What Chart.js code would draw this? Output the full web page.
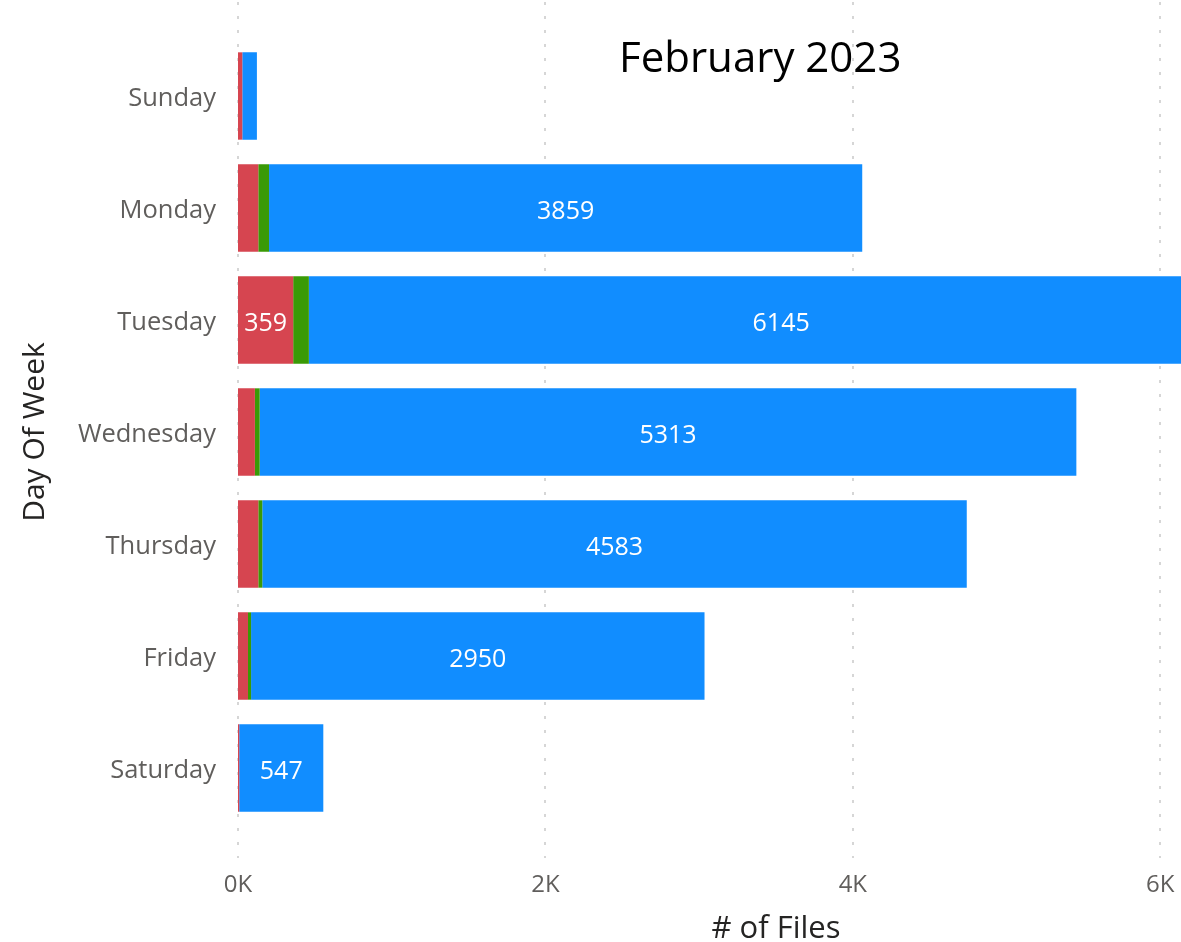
<!DOCTYPE html>
<html>
<head>
<meta charset="utf-8">
<script src="https://cdn.jsdelivr.net/npm/chart.js@4.4.1/dist/chart.umd.min.js"></script>
<style>
  html, body { margin: 0; padding: 0; background: #fff; overflow: hidden; }
  #wrap { width: 1330px; height: 942px; }
</style>
</head>
<body>
<div id="wrap"><canvas id="c" width="1330" height="942"></canvas></div>
<script>
// ── data ───────────────────────────────────────────────────────
const days = ['Sunday', 'Monday', 'Tuesday', 'Wednesday', 'Thursday', 'Friday', 'Saturday'];
const redVals   = [28, 132, 359, 110, 132, 65, 8];
const greenVals = [0, 70, 102, 31, 26, 20, 0];
const blueVals  = [95, 3859, 6145, 5313, 4583, 2950, 547];
const xTicks = [0, 2000, 4000, 6000];
const chartTitle = 'February 2023';

const FONT = "'Open Sans', 'Noto Sans', sans-serif";
const GREY = '#605e5c';
const DARK = '#252423';

// dotted grid, runs past the plot area like the original
const dottedGrid = {
  id: 'dottedGrid',
  beforeDatasetsDraw(chart) {
    const { ctx, scales: { x } } = chart;
    ctx.save();
    ctx.strokeStyle = '#d6d6d6';
    ctx.lineWidth = 2;
    ctx.setLineDash([3, 11]);
    xTicks.forEach(v => {
      const px = Math.round(x.getPixelForValue(v));
      ctx.beginPath();
      ctx.moveTo(px, 2);
      ctx.lineTo(px, 858);
      ctx.stroke();
    });
    ctx.restore();
  }
};

// white value labels, only where they fit inside the segment
const barLabels = {
  id: 'barLabels',
  afterDatasetsDraw(chart) {
    const { ctx } = chart;
    ctx.save();
    ctx.font = `25px ${FONT}`;
    ctx.fillStyle = '#fff';
    ctx.textAlign = 'center';
    ctx.textBaseline = 'middle';
    chart.data.datasets.forEach((ds, i) => {
      chart.getDatasetMeta(i).data.forEach((bar, j) => {
        const v = ds.data[j];
        if (!v) return;
        const txt = String(v);
        const w = Math.abs(bar.x - bar.base);
        if (w < ctx.measureText(txt).width + 10) return;
        ctx.fillText(txt, (bar.x + bar.base) / 2, bar.y + 4);
      });
    });
    ctx.restore();
  }
};

const titleText = {
  id: 'titleText',
  afterDraw(chart) {
    const { ctx } = chart;
    ctx.save();
    ctx.font = `42px ${FONT}`;
    ctx.fillStyle = '#000';
    ctx.textAlign = 'left';
    ctx.textBaseline = 'middle';
    ctx.fillText(chartTitle, 619, 60);
    ctx.restore();
  }
};

new Chart(document.getElementById('c'), {
  type: 'bar',
  data: {
    labels: days,
    datasets: [
      { label: 'Red', data: redVals, backgroundColor: '#d64550' },
      { label: 'Green', data: greenVals, backgroundColor: '#3a9a06' },
      { label: 'Blue', data: blueVals, backgroundColor: '#118dff' }
    ]
  },
  options: {
    indexAxis: 'y',
    responsive: false,
    animation: false,
    layout: { padding: { top: 40, right: 16, left: 0, bottom: 0 } },
    datasets: { bar: { categoryPercentage: 1, barPercentage: 0.78, borderWidth: 0 } },
    plugins: { legend: { display: false }, tooltip: { enabled: false } },
    scales: {
      x: {
        stacked: true,
        min: 0,
        max: 7000,
        border: { display: false },
        grid: { display: false, drawTicks: false },
        afterFit: s => { s.height = 118; },
        afterBuildTicks: s => { s.ticks = xTicks.map(v => ({ value: v })); },
        ticks: {
          padding: 47,
          color: GREY,
          font: { family: FONT, size: 24 },
          callback: v => (v / 1000) + 'K'
        },
        title: {
          display: true,
          text: '# of Files',
          color: DARK,
          font: { family: FONT, size: 31, lineHeight: 1 },
          padding: { top: 0, bottom: -3 }
        }
      },
      y: {
        stacked: true,
        border: { display: false },
        grid: { display: false, drawTicks: false },
        afterFit: s => { s.width = 238; },
        ticks: {
          padding: 22,
          labelOffset: 3,
          color: GREY,
          font: { family: FONT, size: 25.5 }
        },
        title: {
          display: true,
          text: 'Day Of Week',
          color: DARK,
          font: { family: FONT, size: 30, lineHeight: 1 },
          padding: { top: 20, bottom: 0 }
        }
      }
    }
  },
  plugins: [dottedGrid, barLabels, titleText]
});
</script>
</body>
</html>
